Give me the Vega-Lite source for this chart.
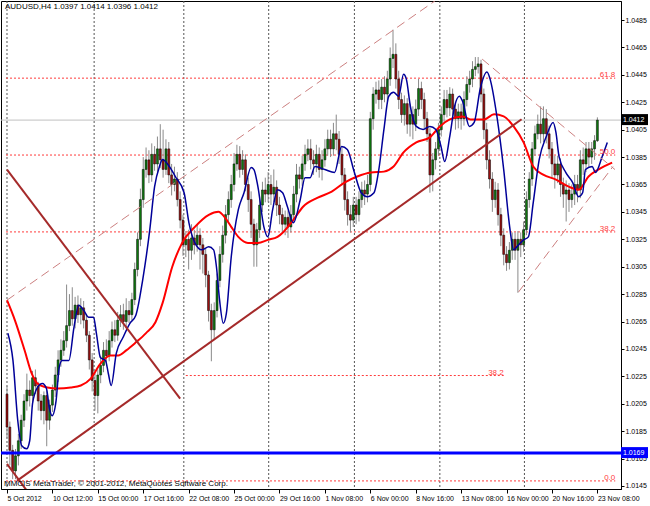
{
"$schema": "https://vega.github.io/schema/vega-lite/v6.json",
"width": 620, "height": 488,
"autosize": {"type": "none"},
"padding": {"left": 1, "top": 1, "right": 29, "bottom": 17},
"background": "white",
"config": {"view": {"stroke": "#000", "strokeWidth": 1}, "font": "Liberation Sans",
 "axis": {"labelOverlap": false, "labelFlush": false, "grid": false, "title": null, "labelFont": "Liberation Sans", "labelFontSize": 7, "labelColor": "#000", "tickColor": "#000", "domainColor": "#000", "labelPadding": 1}},
"datasets": {
"bars": [
{"i":0,"o":1.0212,"h":1.0218,"l":1.0180,"c":1.0188},
{"i":1,"o":1.0188,"h":1.0192,"l":1.0160,"c":1.0171},
{"i":2,"o":1.0171,"h":1.0175,"l":1.0150,"c":1.0156},
{"i":3,"o":1.0156,"h":1.0172,"l":1.0150,"c":1.0167},
{"i":4,"o":1.0167,"h":1.0183,"l":1.0160,"c":1.0178},
{"i":5,"o":1.0178,"h":1.0197,"l":1.0172,"c":1.0193},
{"i":6,"o":1.0193,"h":1.0212,"l":1.0188,"c":1.0207},
{"i":7,"o":1.0207,"h":1.0227,"l":1.0200,"c":1.0215},
{"i":8,"o":1.0215,"h":1.0222,"l":1.0203,"c":1.0211},
{"i":9,"o":1.0211,"h":1.0229,"l":1.0206,"c":1.0224},
{"i":10,"o":1.0224,"h":1.0230,"l":1.0212,"c":1.0218},
{"i":11,"o":1.0218,"h":1.0221,"l":1.0200,"c":1.0207},
{"i":12,"o":1.0207,"h":1.0212,"l":1.0193,"c":1.0200},
{"i":13,"o":1.0200,"h":1.0214,"l":1.0190,"c":1.0211},
{"i":14,"o":1.0211,"h":1.0215,"l":1.0174,"c":1.0193},
{"i":15,"o":1.0193,"h":1.0208,"l":1.0186,"c":1.0204},
{"i":16,"o":1.0204,"h":1.0219,"l":1.0199,"c":1.0215},
{"i":17,"o":1.0215,"h":1.0232,"l":1.0210,"c":1.0226},
{"i":18,"o":1.0226,"h":1.0244,"l":1.0221,"c":1.0237},
{"i":19,"o":1.0237,"h":1.0252,"l":1.0232,"c":1.0244},
{"i":20,"o":1.0244,"h":1.0258,"l":1.0240,"c":1.0251},
{"i":21,"o":1.0251,"h":1.0292,"l":1.0246,"c":1.0262},
{"i":22,"o":1.0262,"h":1.0285,"l":1.0258,"c":1.0273},
{"i":23,"o":1.0273,"h":1.0290,"l":1.0262,"c":1.0267},
{"i":24,"o":1.0267,"h":1.0283,"l":1.0260,"c":1.0277},
{"i":25,"o":1.0277,"h":1.0284,"l":1.0264,"c":1.0270},
{"i":26,"o":1.0270,"h":1.0282,"l":1.0263,"c":1.0275},
{"i":27,"o":1.0275,"h":1.0280,"l":1.0260,"c":1.0266},
{"i":28,"o":1.0266,"h":1.0270,"l":1.0250,"c":1.0255},
{"i":29,"o":1.0255,"h":1.0258,"l":1.0230,"c":1.0237},
{"i":30,"o":1.0237,"h":1.0242,"l":1.0214,"c":1.0222},
{"i":31,"o":1.0222,"h":1.0228,"l":1.0200,"c":1.0211},
{"i":32,"o":1.0211,"h":1.0230,"l":1.0198,"c":1.0226},
{"i":33,"o":1.0226,"h":1.0240,"l":1.0220,"c":1.0233},
{"i":34,"o":1.0233,"h":1.0250,"l":1.0228,"c":1.0244},
{"i":35,"o":1.0244,"h":1.0252,"l":1.0235,"c":1.0240},
{"i":36,"o":1.0240,"h":1.0258,"l":1.0236,"c":1.0251},
{"i":37,"o":1.0251,"h":1.0265,"l":1.0246,"c":1.0259},
{"i":38,"o":1.0259,"h":1.0266,"l":1.0250,"c":1.0255},
{"i":39,"o":1.0255,"h":1.0272,"l":1.0251,"c":1.0266},
{"i":40,"o":1.0266,"h":1.0277,"l":1.0261,"c":1.0270},
{"i":41,"o":1.0270,"h":1.0278,"l":1.0259,"c":1.0265},
{"i":42,"o":1.0265,"h":1.0282,"l":1.0260,"c":1.0273},
{"i":43,"o":1.0273,"h":1.0280,"l":1.0264,"c":1.0270},
{"i":44,"o":1.0270,"h":1.0286,"l":1.0266,"c":1.0281},
{"i":45,"o":1.0281,"h":1.0308,"l":1.0277,"c":1.0303},
{"i":46,"o":1.0303,"h":1.0330,"l":1.0298,"c":1.0325},
{"i":47,"o":1.0325,"h":1.0362,"l":1.0320,"c":1.0354},
{"i":48,"o":1.0354,"h":1.0385,"l":1.0348,"c":1.0376},
{"i":49,"o":1.0376,"h":1.0392,"l":1.0370,"c":1.0383},
{"i":50,"o":1.0383,"h":1.0390,"l":1.0366,"c":1.0372},
{"i":51,"o":1.0372,"h":1.0395,"l":1.0367,"c":1.0387},
{"i":52,"o":1.0387,"h":1.0393,"l":1.0375,"c":1.0380},
{"i":53,"o":1.0380,"h":1.0400,"l":1.0374,"c":1.0391},
{"i":54,"o":1.0391,"h":1.0409,"l":1.0377,"c":1.0383},
{"i":55,"o":1.0383,"h":1.0405,"l":1.0370,"c":1.0376},
{"i":56,"o":1.0376,"h":1.0398,"l":1.0372,"c":1.0391},
{"i":57,"o":1.0391,"h":1.0396,"l":1.0366,"c":1.0372},
{"i":58,"o":1.0372,"h":1.0380,"l":1.0357,"c":1.0365},
{"i":59,"o":1.0365,"h":1.0378,"l":1.0360,"c":1.0369},
{"i":60,"o":1.0369,"h":1.0374,"l":1.0349,"c":1.0354},
{"i":61,"o":1.0354,"h":1.0360,"l":1.0333,"c":1.0339},
{"i":62,"o":1.0339,"h":1.0343,"l":1.0313,"c":1.0321},
{"i":63,"o":1.0321,"h":1.0331,"l":1.0312,"c":1.0325},
{"i":64,"o":1.0325,"h":1.0332,"l":1.0303,"c":1.0317},
{"i":65,"o":1.0317,"h":1.0336,"l":1.0310,"c":1.0326},
{"i":66,"o":1.0326,"h":1.0332,"l":1.0314,"c":1.0321},
{"i":67,"o":1.0321,"h":1.0336,"l":1.0316,"c":1.0328},
{"i":68,"o":1.0328,"h":1.0333,"l":1.0303,"c":1.0321},
{"i":69,"o":1.0321,"h":1.0326,"l":1.0300,"c":1.0314},
{"i":70,"o":1.0314,"h":1.0318,"l":1.0290,"c":1.0299},
{"i":71,"o":1.0299,"h":1.0302,"l":1.0265,"c":1.0273},
{"i":72,"o":1.0273,"h":1.0278,"l":1.0236,"c":1.0259},
{"i":73,"o":1.0259,"h":1.0279,"l":1.0252,"c":1.0273},
{"i":74,"o":1.0273,"h":1.0300,"l":1.0268,"c":1.0295},
{"i":75,"o":1.0295,"h":1.0320,"l":1.0290,"c":1.0314},
{"i":76,"o":1.0314,"h":1.0335,"l":1.0308,"c":1.0328},
{"i":77,"o":1.0328,"h":1.0350,"l":1.0322,"c":1.0343},
{"i":78,"o":1.0343,"h":1.0360,"l":1.0338,"c":1.0354},
{"i":79,"o":1.0354,"h":1.0372,"l":1.0348,"c":1.0365},
{"i":80,"o":1.0365,"h":1.0388,"l":1.0360,"c":1.0380},
{"i":81,"o":1.0380,"h":1.0394,"l":1.0375,"c":1.0387},
{"i":82,"o":1.0387,"h":1.0393,"l":1.0370,"c":1.0376},
{"i":83,"o":1.0376,"h":1.0390,"l":1.0372,"c":1.0383},
{"i":84,"o":1.0383,"h":1.0387,"l":1.0360,"c":1.0365},
{"i":85,"o":1.0365,"h":1.0370,"l":1.0345,"c":1.0354},
{"i":86,"o":1.0354,"h":1.0360,"l":1.0326,"c":1.0336},
{"i":87,"o":1.0336,"h":1.0340,"l":1.0305,"c":1.0321},
{"i":88,"o":1.0321,"h":1.0337,"l":1.0305,"c":1.0332},
{"i":89,"o":1.0332,"h":1.0356,"l":1.0326,"c":1.0350},
{"i":90,"o":1.0350,"h":1.0367,"l":1.0345,"c":1.0361},
{"i":91,"o":1.0361,"h":1.0370,"l":1.0352,"c":1.0358},
{"i":92,"o":1.0358,"h":1.0374,"l":1.0352,"c":1.0365},
{"i":93,"o":1.0365,"h":1.0372,"l":1.0350,"c":1.0358},
{"i":94,"o":1.0358,"h":1.0376,"l":1.0352,"c":1.0363},
{"i":95,"o":1.0363,"h":1.0368,"l":1.0342,"c":1.0350},
{"i":96,"o":1.0350,"h":1.0356,"l":1.0336,"c":1.0343},
{"i":97,"o":1.0343,"h":1.0348,"l":1.0330,"c":1.0336},
{"i":98,"o":1.0336,"h":1.0346,"l":1.0328,"c":1.0341},
{"i":99,"o":1.0341,"h":1.0346,"l":1.0326,"c":1.0334},
{"i":100,"o":1.0334,"h":1.0350,"l":1.0330,"c":1.0343},
{"i":101,"o":1.0343,"h":1.0364,"l":1.0338,"c":1.0358},
{"i":102,"o":1.0358,"h":1.0380,"l":1.0352,"c":1.0372},
{"i":103,"o":1.0372,"h":1.0378,"l":1.0362,"c":1.0369},
{"i":104,"o":1.0369,"h":1.0386,"l":1.0364,"c":1.0380},
{"i":105,"o":1.0380,"h":1.0394,"l":1.0375,"c":1.0387},
{"i":106,"o":1.0387,"h":1.0398,"l":1.0382,"c":1.0391},
{"i":107,"o":1.0391,"h":1.0398,"l":1.0376,"c":1.0383},
{"i":108,"o":1.0383,"h":1.0390,"l":1.0372,"c":1.0380},
{"i":109,"o":1.0380,"h":1.0394,"l":1.0374,"c":1.0387},
{"i":110,"o":1.0387,"h":1.0392,"l":1.0370,"c":1.0376},
{"i":111,"o":1.0376,"h":1.0390,"l":1.0368,"c":1.0383},
{"i":112,"o":1.0383,"h":1.0398,"l":1.0378,"c":1.0391},
{"i":113,"o":1.0391,"h":1.0405,"l":1.0386,"c":1.0398},
{"i":114,"o":1.0398,"h":1.0405,"l":1.0385,"c":1.0391},
{"i":115,"o":1.0391,"h":1.0410,"l":1.0386,"c":1.0402},
{"i":116,"o":1.0402,"h":1.0416,"l":1.0390,"c":1.0398},
{"i":117,"o":1.0398,"h":1.0404,"l":1.0380,"c":1.0387},
{"i":118,"o":1.0387,"h":1.0392,"l":1.0365,"c":1.0372},
{"i":119,"o":1.0372,"h":1.0377,"l":1.0346,"c":1.0354},
{"i":120,"o":1.0354,"h":1.0360,"l":1.0335,"c":1.0343},
{"i":121,"o":1.0343,"h":1.0350,"l":1.0330,"c":1.0339},
{"i":122,"o":1.0339,"h":1.0356,"l":1.0334,"c":1.0350},
{"i":123,"o":1.0350,"h":1.0356,"l":1.0336,"c":1.0343},
{"i":124,"o":1.0343,"h":1.0360,"l":1.0338,"c":1.0354},
{"i":125,"o":1.0354,"h":1.0367,"l":1.0348,"c":1.0361},
{"i":126,"o":1.0361,"h":1.0368,"l":1.0350,"c":1.0358},
{"i":127,"o":1.0358,"h":1.0372,"l":1.0352,"c":1.0365},
{"i":128,"o":1.0365,"h":1.0418,"l":1.0360,"c":1.0413},
{"i":129,"o":1.0413,"h":1.0436,"l":1.0405,"c":1.0431},
{"i":130,"o":1.0431,"h":1.0440,"l":1.0424,"c":1.0434},
{"i":131,"o":1.0434,"h":1.0441,"l":1.0420,"c":1.0427},
{"i":132,"o":1.0427,"h":1.0442,"l":1.0420,"c":1.0436},
{"i":133,"o":1.0436,"h":1.0444,"l":1.0425,"c":1.0431},
{"i":134,"o":1.0431,"h":1.0448,"l":1.0426,"c":1.0442},
{"i":135,"o":1.0442,"h":1.0465,"l":1.0437,"c":1.0457},
{"i":136,"o":1.0457,"h":1.0478,"l":1.0450,"c":1.0460},
{"i":137,"o":1.0460,"h":1.0468,"l":1.0435,"c":1.0442},
{"i":138,"o":1.0442,"h":1.0448,"l":1.0420,"c":1.0427},
{"i":139,"o":1.0427,"h":1.0432,"l":1.0410,"c":1.0416},
{"i":140,"o":1.0416,"h":1.0430,"l":1.0408,"c":1.0424},
{"i":141,"o":1.0424,"h":1.0428,"l":1.0402,"c":1.0409},
{"i":142,"o":1.0409,"h":1.0424,"l":1.0400,"c":1.0416},
{"i":143,"o":1.0416,"h":1.0422,"l":1.0398,"c":1.0409},
{"i":144,"o":1.0409,"h":1.0427,"l":1.0404,"c":1.0420},
{"i":145,"o":1.0420,"h":1.0442,"l":1.0415,"c":1.0435},
{"i":146,"o":1.0435,"h":1.0440,"l":1.0420,"c":1.0427},
{"i":147,"o":1.0427,"h":1.0432,"l":1.0406,"c":1.0413},
{"i":148,"o":1.0413,"h":1.0418,"l":1.0396,"c":1.0402},
{"i":149,"o":1.0402,"h":1.0406,"l":1.0359,"c":1.0372},
{"i":150,"o":1.0372,"h":1.0388,"l":1.0360,"c":1.0383},
{"i":151,"o":1.0383,"h":1.0396,"l":1.0376,"c":1.0391},
{"i":152,"o":1.0391,"h":1.0410,"l":1.0386,"c":1.0405},
{"i":153,"o":1.0405,"h":1.0422,"l":1.0400,"c":1.0416},
{"i":154,"o":1.0416,"h":1.0434,"l":1.0410,"c":1.0427},
{"i":155,"o":1.0427,"h":1.0434,"l":1.0414,"c":1.0421},
{"i":156,"o":1.0421,"h":1.0436,"l":1.0415,"c":1.0431},
{"i":157,"o":1.0431,"h":1.0435,"l":1.0412,"c":1.0420},
{"i":158,"o":1.0420,"h":1.0425,"l":1.0405,"c":1.0413},
{"i":159,"o":1.0413,"h":1.0424,"l":1.0406,"c":1.0418},
{"i":160,"o":1.0418,"h":1.0424,"l":1.0405,"c":1.0413},
{"i":161,"o":1.0413,"h":1.0433,"l":1.0408,"c":1.0427},
{"i":162,"o":1.0427,"h":1.0444,"l":1.0422,"c":1.0438},
{"i":163,"o":1.0438,"h":1.0448,"l":1.0432,"c":1.0442},
{"i":164,"o":1.0442,"h":1.0455,"l":1.0436,"c":1.0449},
{"i":165,"o":1.0449,"h":1.0458,"l":1.0444,"c":1.0451},
{"i":166,"o":1.0451,"h":1.0458,"l":1.0446,"c":1.0453},
{"i":167,"o":1.0453,"h":1.0456,"l":1.0425,"c":1.0431},
{"i":168,"o":1.0431,"h":1.0435,"l":1.0398,"c":1.0405},
{"i":169,"o":1.0405,"h":1.0410,"l":1.0376,"c":1.0383},
{"i":170,"o":1.0383,"h":1.0390,"l":1.0362,"c":1.0369},
{"i":171,"o":1.0369,"h":1.0374,"l":1.0345,"c":1.0354},
{"i":172,"o":1.0354,"h":1.0367,"l":1.0348,"c":1.0361},
{"i":173,"o":1.0361,"h":1.0366,"l":1.0335,"c":1.0343},
{"i":174,"o":1.0343,"h":1.0348,"l":1.0320,"c":1.0328},
{"i":175,"o":1.0328,"h":1.0333,"l":1.0306,"c":1.0314},
{"i":176,"o":1.0314,"h":1.0320,"l":1.0302,"c":1.0308},
{"i":177,"o":1.0308,"h":1.0323,"l":1.0303,"c":1.0317},
{"i":178,"o":1.0317,"h":1.0330,"l":1.0310,"c":1.0325},
{"i":179,"o":1.0325,"h":1.0330,"l":1.0310,"c":1.0317},
{"i":180,"o":1.0317,"h":1.0331,"l":1.0286,"c":1.0325},
{"i":181,"o":1.0325,"h":1.0330,"l":1.0312,"c":1.0321},
{"i":182,"o":1.0321,"h":1.0338,"l":1.0316,"c":1.0332},
{"i":183,"o":1.0332,"h":1.0360,"l":1.0328,"c":1.0354},
{"i":184,"o":1.0354,"h":1.0374,"l":1.0348,"c":1.0369},
{"i":185,"o":1.0369,"h":1.0396,"l":1.0364,"c":1.0391},
{"i":186,"o":1.0391,"h":1.0408,"l":1.0386,"c":1.0402},
{"i":187,"o":1.0402,"h":1.0416,"l":1.0398,"c":1.0409},
{"i":188,"o":1.0409,"h":1.0422,"l":1.0395,"c":1.0402},
{"i":189,"o":1.0402,"h":1.0422,"l":1.0396,"c":1.0413},
{"i":190,"o":1.0413,"h":1.0420,"l":1.0395,"c":1.0402},
{"i":191,"o":1.0402,"h":1.0408,"l":1.0384,"c":1.0391},
{"i":192,"o":1.0391,"h":1.0396,"l":1.0370,"c":1.0380},
{"i":193,"o":1.0380,"h":1.0386,"l":1.0362,"c":1.0372},
{"i":194,"o":1.0372,"h":1.0386,"l":1.0366,"c":1.0380},
{"i":195,"o":1.0380,"h":1.0384,"l":1.0356,"c":1.0365},
{"i":196,"o":1.0365,"h":1.0370,"l":1.0348,"c":1.0358},
{"i":197,"o":1.0358,"h":1.0368,"l":1.0338,"c":1.0361},
{"i":198,"o":1.0361,"h":1.0366,"l":1.0345,"c":1.0354},
{"i":199,"o":1.0354,"h":1.0365,"l":1.0348,"c":1.0358},
{"i":200,"o":1.0358,"h":1.0372,"l":1.0350,"c":1.0365},
{"i":201,"o":1.0365,"h":1.0372,"l":1.0352,"c":1.0361},
{"i":202,"o":1.0361,"h":1.0390,"l":1.0355,"c":1.0383},
{"i":203,"o":1.0383,"h":1.0392,"l":1.0372,"c":1.0380},
{"i":204,"o":1.0380,"h":1.0396,"l":1.0374,"c":1.0391},
{"i":205,"o":1.0391,"h":1.0396,"l":1.0378,"c":1.0385},
{"i":206,"o":1.0385,"h":1.0396,"l":1.0380,"c":1.0391},
{"i":207,"o":1.0391,"h":1.0401,"l":1.0383,"c":1.0397},
{"i":208,"o":1.0397,"h":1.0414,"l":1.0396,"c":1.0412}
],
"mared": [
{"i":0,"v":1.02806},{"i":2.8,"v":1.02659},{"i":6.2,"v":1.0244},{"i":8.7,"v":1.02271},{"i":10.7,"v":1.02198},{"i":14.2,"v":1.02168},{"i":17.7,"v":1.02161},{"i":22.5,"v":1.02168},{"i":26,"v":1.02183},{"i":29.5,"v":1.02234},{"i":33,"v":1.02344},{"i":36.4,"v":1.02403},{"i":39.2,"v":1.02403},{"i":42,"v":1.0244},{"i":45.4,"v":1.02498},{"i":48.9,"v":1.02564},{"i":52.3,"v":1.02645},{"i":54.8,"v":1.02784},{"i":58.2,"v":1.03048},{"i":61.7,"v":1.03224},{"i":66.2,"v":1.03341},{"i":71.1,"v":1.03429},{"i":74.5,"v":1.03451},{"i":76.6,"v":1.03414},{"i":79,"v":1.03341},{"i":81.5,"v":1.03268},{"i":84.9,"v":1.03224},{"i":88.4,"v":1.03224},{"i":91.9,"v":1.03246},{"i":95.3,"v":1.03268},{"i":97.4,"v":1.03304},{"i":100.9,"v":1.03392},{"i":104.3,"v":1.03488},{"i":109.5,"v":1.03554},{"i":114.4,"v":1.03598},{"i":118.9,"v":1.03664},{"i":123.4,"v":1.03708},{"i":128.2,"v":1.03737},{"i":132.8,"v":1.03744},{"i":136.2,"v":1.03781},{"i":139.7,"v":1.03884},{"i":144.2,"v":1.03957},{"i":149,"v":1.03994},{"i":152.5,"v":1.04074},{"i":156,"v":1.04125},{"i":160.5,"v":1.04147},{"i":163.3,"v":1.04125},{"i":168.1,"v":1.04125},{"i":171.6,"v":1.04162},{"i":175,"v":1.04147},{"i":178.5,"v":1.04074},{"i":182,"v":1.03957},{"i":185.4,"v":1.03781},{"i":188.9,"v":1.03722},{"i":193.4,"v":1.03686},{"i":197.9,"v":1.03634},{"i":201.4,"v":1.03612},{"i":204.9,"v":1.03708},{"i":208.3,"v":1.03759},{"i":213.2,"v":1.0381}
],
"mablue": [
{"i":0.3,"v":1.02564},{"i":2.1,"v":1.02366},{"i":3.8,"v":1.01926},{"i":5.2,"v":1.01743},{"i":6.9,"v":1.01721},{"i":8,"v":1.0178},{"i":9,"v":1.02051},{"i":10.7,"v":1.02168},{"i":12.5,"v":1.02198},{"i":13.9,"v":1.02161},{"i":14.9,"v":1.02022},{"i":15.9,"v":1.01963},{"i":17.3,"v":1.02073},{"i":18.4,"v":1.02315},{"i":19.4,"v":1.02366},{"i":21.8,"v":1.02366},{"i":23.6,"v":1.02608},{"i":25.3,"v":1.02769},{"i":27,"v":1.02733},{"i":28.8,"v":1.02681},{"i":30.5,"v":1.02681},{"i":31.5,"v":1.02564},{"i":32.9,"v":1.02388},{"i":34.7,"v":1.02366},{"i":35.7,"v":1.02271},{"i":36.7,"v":1.02183},{"i":38.5,"v":1.02418},{"i":40.9,"v":1.02535},{"i":43.3,"v":1.02637},{"i":45.4,"v":1.02696},{"i":47.8,"v":1.02953},{"i":50.3,"v":1.03319},{"i":52,"v":1.03634},{"i":53.7,"v":1.03781},{"i":54.8,"v":1.03832},{"i":57.2,"v":1.03781},{"i":59.3,"v":1.03708},{"i":62.4,"v":1.0359},{"i":64.1,"v":1.0337},{"i":66.2,"v":1.03224},{"i":68.6,"v":1.03173},{"i":71.1,"v":1.03195},{"i":72.8,"v":1.03173},{"i":73.8,"v":1.03048},{"i":74.9,"v":1.02806},{"i":76.2,"v":1.02637},{"i":77.3,"v":1.02711},{"i":79,"v":1.03121},{"i":81.5,"v":1.03466},{"i":83.5,"v":1.0359},{"i":86,"v":1.03774},{"i":87,"v":1.03759},{"i":88.4,"v":1.03634},{"i":90.5,"v":1.03341},{"i":91.9,"v":1.03268},{"i":93.6,"v":1.03466},{"i":95.3,"v":1.03612},{"i":97.1,"v":1.0359},{"i":98.8,"v":1.03488},{"i":100.9,"v":1.0337},{"i":103.3,"v":1.03539},{"i":105,"v":1.037},{"i":106.8,"v":1.037},{"i":108.5,"v":1.03781},{"i":112,"v":1.03759},{"i":115.4,"v":1.03737},{"i":117.9,"v":1.03928},{"i":119.9,"v":1.03906},{"i":122.4,"v":1.03737},{"i":124.8,"v":1.0359},{"i":126.9,"v":1.03561},{"i":129.3,"v":1.0359},{"i":131,"v":1.03759},{"i":132.8,"v":1.04052},{"i":134.5,"v":1.04294},{"i":136.2,"v":1.04323},{"i":138,"v":1.04294},{"i":139.7,"v":1.04455},{"i":140.7,"v":1.04419},{"i":142.1,"v":1.04221},{"i":144.2,"v":1.04074},{"i":146.6,"v":1.04052},{"i":149,"v":1.04074},{"i":151.1,"v":1.04052},{"i":152.9,"v":1.03928},{"i":154.2,"v":1.03818},{"i":156,"v":1.04001},{"i":157.7,"v":1.04221},{"i":159.4,"v":1.04294},{"i":160.5,"v":1.04257},{"i":162.9,"v":1.04074},{"i":164.6,"v":1.04103},{"i":166.7,"v":1.04345},{"i":169.1,"v":1.0447},{"i":170.2,"v":1.04419},{"i":172.6,"v":1.04147},{"i":175,"v":1.03759},{"i":177.1,"v":1.03341},{"i":178.5,"v":1.03173},{"i":179.6,"v":1.03195},{"i":182,"v":1.03246},{"i":183.7,"v":1.03268},{"i":185.4,"v":1.03517},{"i":187.5,"v":1.03832},{"i":190,"v":1.04001},{"i":192.4,"v":1.04103},{"i":193.4,"v":1.0403},{"i":194.5,"v":1.03854},{"i":196.9,"v":1.03737},{"i":199.3,"v":1.03664},{"i":201.4,"v":1.03561},{"i":202.8,"v":1.0359},{"i":203.8,"v":1.03759},{"i":206.2,"v":1.03781},{"i":207.3,"v":1.03737},{"i":209.7,"v":1.03854},{"i":211.5,"v":1.03957}
],
"trend": [
{"id":"a","kind":"solid","i":3.47,"p":1.01487},{"id":"a","kind":"solid","i":181.3,"p":1.04126},
{"id":"b","kind":"solid","i":0,"p":1.03759},{"id":"b","kind":"solid","i":61,"p":1.02088},
{"id":"c","kind":"solid","i":0,"p":1.01611},{"id":"c","kind":"solid","i":7.6,"p":1.01399},
{"id":"d","kind":"dashed","i":0,"p":1.02806},{"id":"d","kind":"dashed","i":150.8,"p":1.0499},
{"id":"e","kind":"dashed","i":167.4,"p":1.04565},{"id":"e","kind":"dashed","i":214.2,"p":1.03759},
{"id":"f","kind":"dashed","i":180.2,"p":1.02865},{"id":"f","kind":"dashed","i":213.5,"p":1.03781}
],
"fibo": [
{"lv":"0.0","p":1.01487,"i0":-0.35,"i1":214.3},
{"lv":"38.2","p":1.03304,"i0":-0.35,"i1":214.3},
{"lv":"50.0","p":1.03865,"i0":-0.35,"i1":214.3},
{"lv":"61.8","p":1.04426,"i0":-0.35,"i1":214.3},
{"lv":"38.2","p":1.02256,"i0":63,"i1":175}
],
"weeks": [{"i":0},{"i":30.7},{"i":62.3},{"i":92.2},{"i":122.4},{"i":152.5},{"i":182.3}],
"levels": [{"k":"bid","p":1.0412,"t":"1.0412"},{"k":"line","p":1.0169,"t":"1.0169"}]
},
"layer": [
{"data":{"name":"weeks"},"mark":{"type":"rule","stroke":"#555555","strokeDash":[2,2],"strokeWidth":1},
 "encoding":{"x":{"field":"i","type":"quantitative","scale":{"domain":[-0.35,214.56],"nice":false,"zero":false},"title":null,
  "axis":{"values":[0,16,32,48,64,80,96,112,128,144,160,176,192,208],"tickCount":20,
   "labelExpr":"['5 Oct 2012','10 Oct 12:00','15 Oct 00:00','17 Oct 16:00','22 Oct 08:00','25 Oct 00:00','29 Oct 16:00','1 Nov 08:00','6 Nov 00:00','8 Nov 16:00','13 Nov 08:00','16 Nov 00:00','20 Nov 16:00','23 Nov 08:00'][round(datum.value/16)]",
   "labelAlign":"left","tickSize":4,"labelOverlap":false,"title":null}}}},
{"data":{"name":"fibo"},"mark":{"type":"rule","stroke":"#ff3b3b","strokeDash":[2,2],"strokeWidth":1,"clip":true},
 "encoding":{"x":{"field":"i0","type":"quantitative","scale":{"domain":[-0.35,214.56],"nice":false,"zero":false},"title":null},
  "x2":{"field":"i1"},
  "y":{"field":"p","type":"quantitative","scale":{"domain":[1.01428,1.04989],"nice":false,"zero":false},"title":null,
   "axis":{"orient":"right","values":[1.0145,1.0165,1.0185,1.0205,1.0225,1.0245,1.0265,1.0285,1.0305,1.0325,1.0345,1.0365,1.0385,1.0405,1.0425,1.0445,1.0465,1.0485],
    "tickCount":30,"format":".4f","tickSize":3,"labelOverlap":false,"title":null}}}},
{"data":{"name":"levels"},"transform":[{"filter":"datum.k == 'bid'"}],"mark":{"type":"rule","stroke":"#c0c0c0","strokeWidth":1},
 "encoding":{"y":{"field":"p","type":"quantitative","title":null}}},
{"data":{"name":"bars"},"mark":{"type":"rule","stroke":"#8a8a8a","strokeWidth":1},
 "encoding":{"x":{"field":"i","type":"quantitative","title":null},
  "y":{"field":"l","type":"quantitative","title":null},
  "y2":{"field":"h"}}},
{"data":{"name":"bars"},"mark":{"type":"bar","size":2,"stroke":"#000","strokeWidth":0.5},
 "encoding":{"x":{"field":"i","type":"quantitative","title":null},
  "y":{"field":"o","type":"quantitative","title":null},
  "y2":{"field":"c"},
  "color":{"condition":{"test":"datum.c >= datum.o","value":"#0e7a0e"},"value":"#9b1010"}}},
{"data":{"name":"mared"},"mark":{"type":"line","stroke":"#ff0000","strokeWidth":2,"interpolate":"monotone","clip":true},
 "encoding":{"x":{"field":"i","type":"quantitative","title":null},
  "y":{"field":"v","type":"quantitative","title":null}}},
{"data":{"name":"mablue"},"mark":{"type":"line","stroke":"#000099","strokeWidth":1.5,"interpolate":"monotone","clip":true},
 "encoding":{"x":{"field":"i","type":"quantitative","title":null},
  "y":{"field":"v","type":"quantitative","title":null}}},
{"data":{"name":"trend"},"transform":[{"filter":"datum.kind == 'solid'"}],"mark":{"type":"line","stroke":"#a52a2a","strokeWidth":2,"clip":true},
 "encoding":{"x":{"field":"i","type":"quantitative","title":null},
  "y":{"field":"p","type":"quantitative","title":null},
  "detail":{"field":"id"}}},
{"data":{"name":"trend"},"transform":[{"filter":"datum.kind == 'dashed'"}],"mark":{"type":"line","stroke":"#cc8080","strokeWidth":1,"strokeDash":[9,5],"clip":true},
 "encoding":{"x":{"field":"i","type":"quantitative","title":null},
  "y":{"field":"p","type":"quantitative","title":null},
  "detail":{"field":"id"}}},
{"data":{"name":"levels"},"transform":[{"filter":"datum.k == 'line'"}],"mark":{"type":"rule","stroke":"#0000ff","strokeWidth":3},
 "encoding":{"y":{"field":"p","type":"quantitative","title":null}}},
{"data":{"name":"fibo"},"mark":{"type":"text","align":"right","baseline":"alphabetic","dy":-1,"fontSize":8,"font":"Liberation Sans","color":"#ff3b3b"},
 "encoding":{"x":{"field":"i1","type":"quantitative","title":null},
  "y":{"field":"p","type":"quantitative","title":null},
  "text":{"field":"lv"}}},
{"data":{"name":"levels"},"mark":{"type":"rect","yOffset":-6,"y2Offset":5,"x2Offset":27,"clip":false},
 "encoding":{"x":{"value":"width"},"x2":{"value":"width"},
  "y":{"field":"p","type":"quantitative","title":null},
  "y2":{"field":"p"},
  "color":{"condition":{"test":"datum.k == 'bid'","value":"#000000"},"value":"#0000ff"}}},
{"data":{"name":"levels"},"mark":{"type":"text","align":"left","baseline":"middle","dx":2,"fontSize":7,"font":"Liberation Sans","color":"#ffffff"},
 "encoding":{"x":{"value":"width"},
  "y":{"field":"p","type":"quantitative","title":null},
  "text":{"field":"t"}}},
{"data":{"values":[{"t":"AUDUSD,H4  1.0397 1.0414 1.0396 1.0412"}]},"mark":{"type":"text","align":"left","baseline":"top","dx":4,"dy":2,"fontSize":8,"font":"Liberation Sans","color":"#000"},
 "encoding":{"x":{"value":0},"y":{"value":0},"text":{"field":"t"}}},
{"data":{"values":[{"t":"MMCIS MetaTrader, © 2001-2012, MetaQuotes Software Corp."}]},"mark":{"type":"text","align":"left","baseline":"bottom","dx":3,"dy":-1,"fontSize":8,"font":"Liberation Sans","color":"#000"},
 "encoding":{"x":{"value":0},"y":{"value":"height"},"text":{"field":"t"}}}
]
}
